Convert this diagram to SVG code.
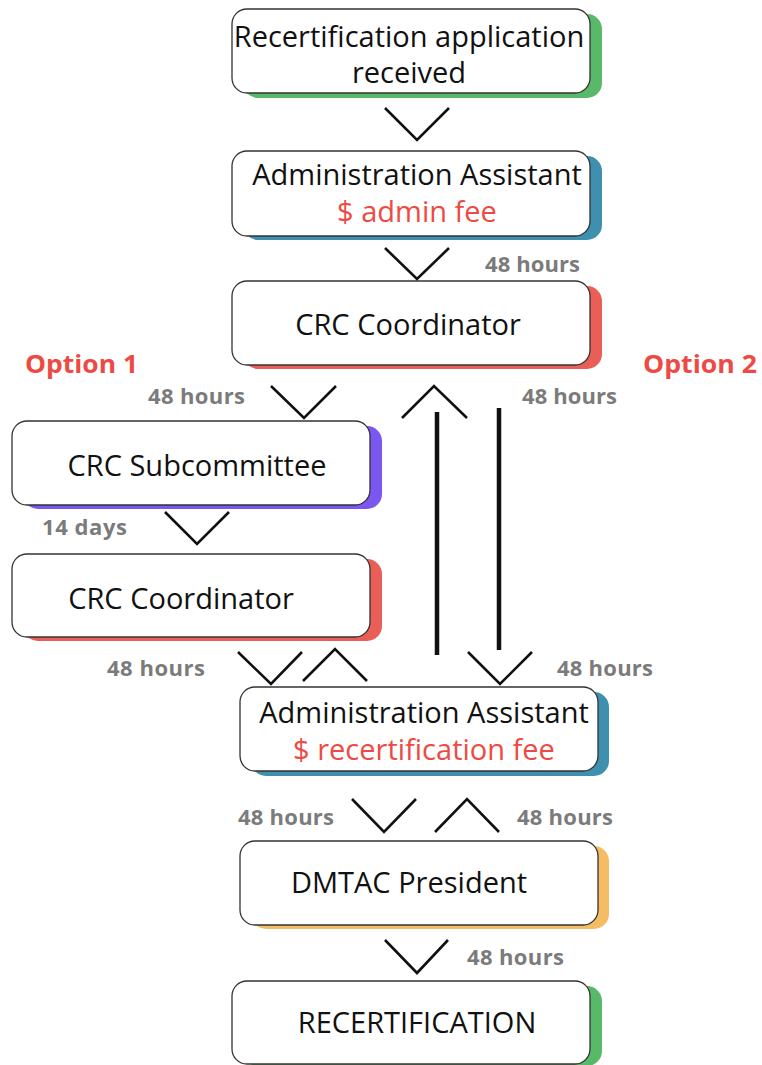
<svg xmlns="http://www.w3.org/2000/svg" width="762" height="1065" viewBox="0 0 762 1065">
<style>
.box{fill:#ffffff;stroke:#333333;stroke-width:1.3}
.t{font-family:"Open Sans","Liberation Sans",sans-serif;font-size:29px;fill:#111111;text-anchor:middle}
.fee{fill:#ee4a44}
.lab{font-family:"Open Sans","Liberation Sans",sans-serif;font-size:22px;font-weight:bold;fill:#7b7b7b}
.opt{font-family:"Open Sans","Liberation Sans",sans-serif;font-size:25px;font-weight:bold;fill:#ee4a44}
.chev{fill:none;stroke:#111111;stroke-width:2.6;stroke-linecap:butt;stroke-linejoin:miter}
.bar{stroke:#111111;stroke-width:4.5}
</style>
<rect width="762" height="1065" fill="#ffffff"/>

<g id="n1">
<rect x="243" y="14" width="359" height="84" rx="15" fill="#58b968"/>
<rect class="box" x="232" y="9" width="358" height="84" rx="15"/>
<text class="t" x="409" y="47">Recertification application</text>
<text class="t" x="409" y="83">received</text>
</g>

<g id="n2">
<rect x="243" y="156" width="359" height="84" rx="15" fill="#3f8faf"/>
<rect class="box" x="232" y="151" width="358" height="85" rx="15"/>
<text class="t" x="417" y="185">Administration Assistant</text>
<text class="t fee" x="417" y="222">$ admin fee</text>
</g>

<g id="n3">
<rect x="243" y="286" width="359" height="83" rx="15" fill="#e95e57"/>
<rect class="box" x="232" y="281" width="358" height="84" rx="15"/>
<text class="t" x="408" y="335">CRC Coordinator</text>
</g>

<g id="n4">
<rect x="23" y="426" width="359" height="83" rx="15" fill="#7b56f1"/>
<rect class="box" x="12" y="421" width="358" height="84" rx="15"/>
<text class="t" x="197" y="476">CRC Subcommittee</text>
</g>

<g id="n5">
<rect x="23" y="559" width="359" height="82" rx="15" fill="#e95e57"/>
<rect class="box" x="12" y="554" width="358" height="83" rx="15"/>
<text class="t" x="181" y="609">CRC Coordinator</text>
</g>

<g id="n6">
<rect x="251" y="692" width="358" height="84" rx="15" fill="#3f8faf"/>
<rect class="box" x="240" y="687" width="358" height="84" rx="15"/>
<text class="t" x="424" y="723">Administration Assistant</text>
<text class="t fee" x="424" y="760">$ recertification fee</text>
</g>

<g id="n7">
<rect x="251" y="846" width="358" height="83" rx="15" fill="#f5bd63"/>
<rect class="box" x="240" y="841" width="358" height="84" rx="15"/>
<text class="t" x="409" y="893">DMTAC President</text>
</g>

<g id="n8">
<rect x="243" y="986" width="359" height="80" rx="15" fill="#58b968"/>
<rect class="box" x="232" y="981" width="358" height="83" rx="15"/>
<text class="t" x="417" y="1033">RECERTIFICATION</text>
</g>

<g id="connectors">
<polyline class="chev" points="385,108 417,140 449,108"/>
<polyline class="chev" points="385,248 417,279 449,248"/>
<polyline class="chev" points="271,386 304,418 336,386"/>
<polyline class="chev" points="402,418 434,386 467,418"/>
<line class="bar" x1="437" y1="412" x2="437" y2="655"/>
<line class="bar" x1="499" y1="408" x2="499" y2="650"/>
<polyline class="chev" points="468,652 500,684 532,652"/>
<polyline class="chev" points="165,512 197,544 229,512"/>
<polyline class="chev" points="238,652 271,684 302,652"/>
<polyline class="chev" points="303,681 335,649 367,681"/>
<polyline class="chev" points="352,799 384,832 416,799"/>
<polyline class="chev" points="435,832 467,799 499,832"/>
<polyline class="chev" points="385,940 417,973 448,940"/>
</g>

<g id="labels">
<text class="opt" x="25" y="373" textLength="113" lengthAdjust="spacingAndGlyphs">Option 1</text>
<text class="opt" x="643" y="373" textLength="114" lengthAdjust="spacingAndGlyphs">Option 2</text>
<text class="lab" x="485" y="272" textLength="95" lengthAdjust="spacing">48 hours</text>
<text class="lab" x="148" y="404" textLength="97" lengthAdjust="spacing">48 hours</text>
<text class="lab" x="522" y="404" textLength="95" lengthAdjust="spacing">48 hours</text>
<text class="lab" x="42" y="535" textLength="85" lengthAdjust="spacing">14 days</text>
<text class="lab" x="107" y="676" textLength="98" lengthAdjust="spacing">48 hours</text>
<text class="lab" x="557" y="676" textLength="96" lengthAdjust="spacing">48 hours</text>
<text class="lab" x="238" y="825" textLength="96" lengthAdjust="spacing">48 hours</text>
<text class="lab" x="517" y="825" textLength="96" lengthAdjust="spacing">48 hours</text>
<text class="lab" x="467" y="965" textLength="97" lengthAdjust="spacing">48 hours</text>
</g>
</svg>
